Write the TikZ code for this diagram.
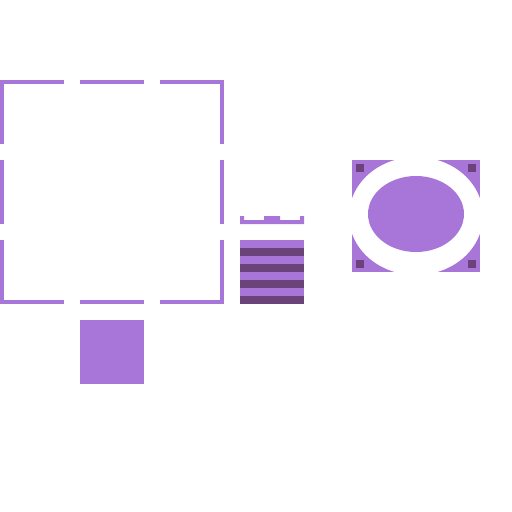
\documentclass[tikz,border=0pt]{standalone}
\usepackage{amsmath}
\usepackage{xcolor}
\usepackage{tikz}

\definecolor{lilac}{RGB}{168,117,216}
\definecolor{plum}{RGB}{107,66,122}

\begin{document}
\begin{tikzpicture}[x=0.75pt,y=0.75pt,yscale=-1,xscale=1]
%set diagram frame: 512 by 512
\useasboundingbox (0,0) rectangle (512,512);

%Shape: Dashed Square [id:frameTop]
\draw [color=lilac, line width=3pt] [dash pattern={on 48pt off 12pt}]  (0,82) -- (224,82) ;
%Shape: Dashed Square [id:frameBottom]
\draw [color=lilac, line width=3pt] [dash pattern={on 48pt off 12pt}]  (0,302) -- (224,302) ;
%Shape: Dashed Square [id:frameLeft]
\draw [color=lilac, line width=3pt] [dash pattern={on 48pt off 12pt}]  (2,80) -- (2,304) ;
%Shape: Dashed Square [id:frameRight]
\draw [color=lilac, line width=3pt] [dash pattern={on 48pt off 12pt}]  (222,80) -- (222,304) ;

%Shape: Square [id:blockBelow]
\fill [color=lilac]  (80,320) rectangle (144,384) ;

%Shape: Polygon [id:lidBar]
\fill [color=lilac]  (240,216) -- (244,216) -- (244,220) -- (264,220) -- (264,216) -- (280,216) -- (280,220) -- (300,220) -- (300,216) -- (304,216) -- (304,224) -- (240,224) -- cycle ;

%Shape: Striped Block [id:stackBase]
\fill [color=lilac]  (240,240) rectangle (304,304) ;
%Straight Lines [id:stackStripes]
\fill [color=plum]  (240,248) rectangle (304,256) ;
\fill [color=plum]  (240,264) rectangle (304,272) ;
\fill [color=plum]  (240,280) rectangle (304,288) ;
\fill [color=plum]  (240,296) rectangle (304,304) ;

%Shape: Corner Frame [id:lensFrame]
\begin{scope}
\clip (352,160) rectangle (480,272) ;
\fill [color=lilac]  (352,160) rectangle (480,272) ;
\fill [color=white]  (416,216) ellipse [x radius=67, y radius=59] ;
\end{scope}
%Shape: Ellipse [id:lensCore]
\fill [color=lilac]  (416,214) ellipse [x radius=48, y radius=38] ;

%Shape: Screws [id:lensScrews]
\fill [color=plum]  (356,164) rectangle (364,172) ;
\fill [color=plum]  (468,164) rectangle (476,172) ;
\fill [color=plum]  (356,260) rectangle (364,268) ;
\fill [color=plum]  (468,260) rectangle (476,268) ;
\end{tikzpicture}
\end{document}
